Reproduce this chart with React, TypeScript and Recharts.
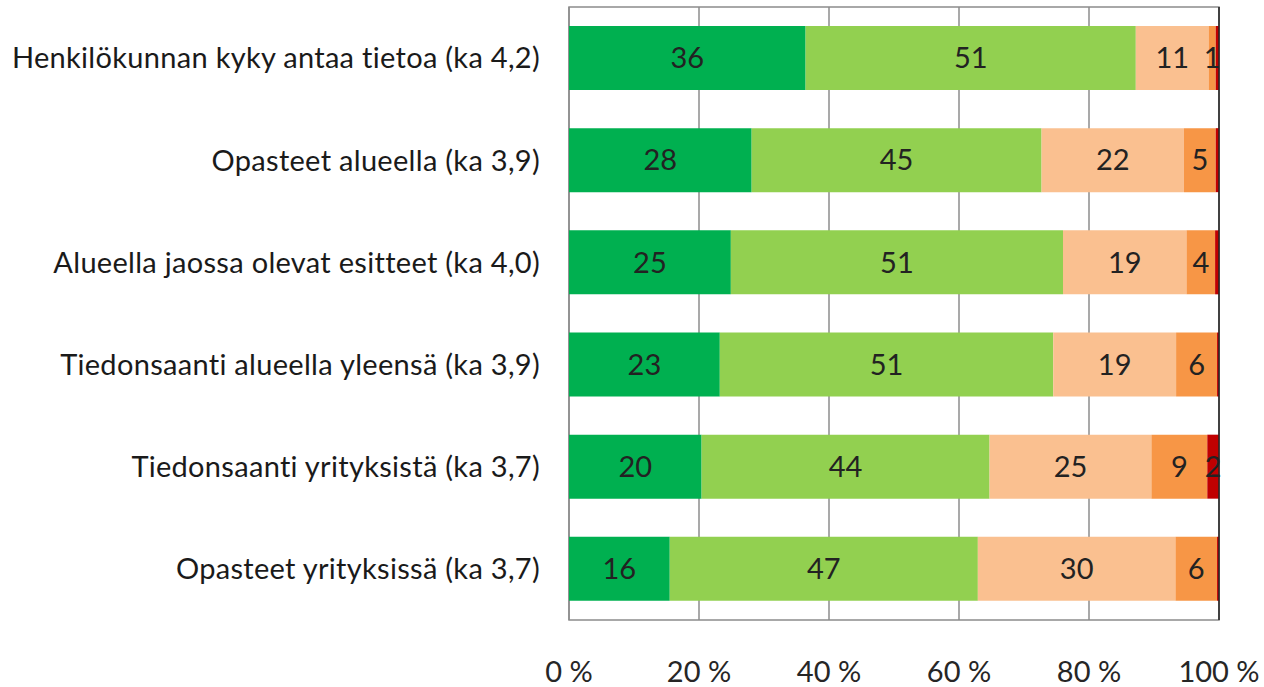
import {
  Bar,
  BarChart,
  CartesianGrid,
  LabelList,
  ReferenceArea,
  ReferenceLine,
  XAxis,
  YAxis,
} from 'recharts';

const categories = [
  'Henkilökunnan kyky antaa tietoa (ka 4,2)',
  'Opasteet alueella (ka 3,9)',
  'Alueella jaossa olevat esitteet (ka 4,0)',
  'Tiedonsaanti alueella yleensä (ka 3,9)',
  'Tiedonsaanti yrityksistä (ka 3,7)',
  'Opasteet yrityksissä (ka 3,7)',
];

// share of answers per category, in percent
const veryGood = [36.4, 28.1, 24.9, 23.2, 20.4, 15.5];
const good = [50.8, 44.6, 51.1, 51.3, 44.3, 47.4];
const fair = [11.2, 21.9, 19.0, 18.9, 24.9, 30.4];
const poor = [1.1, 4.9, 4.4, 6.3, 8.6, 6.4];
const veryPoor = [0.5, 0.5, 0.6, 0.3, 1.8, 0.3];

const xTicks = [0, 20, 40, 60, 80, 100];

const series = [
  { key: 'veryGood', color: '#00b050' },
  { key: 'good', color: '#92d050' },
  { key: 'fair', color: '#fac090' },
  { key: 'poor', color: '#f79646' },
  { key: 'veryPoor', color: '#c00000' },
];

const rows = categories.map((name, i) => ({
  name,
  veryGood: veryGood[i],
  good: good[i],
  fair: fair[i],
  poor: poor[i],
  veryPoor: veryPoor[i],
}));

const FONT = 'Lato, "Open Sans", sans-serif';
const FS = 29;

const showValue = (v: any) => (Number(v) >= 1 ? String(Math.round(Number(v))) : '');

export default function App() {
  return (
    <div style={{ position: 'absolute', left: 0, top: 0, background: '#fff' }}>
      <BarChart
        width={1264}
        height={687}
        data={rows}
        layout="vertical"
        margin={{ top: 7, right: 45, bottom: 0, left: 0 }}
        barSize={64}
      >
        <CartesianGrid horizontal={false} stroke="#8c8c8c" strokeWidth={1.5} />
        <ReferenceArea x1={0} x2={100} fill="none" stroke="#8c8c8c" strokeWidth={1.5} />
        <XAxis
          type="number"
          domain={[0, 100]}
          ticks={xTicks}
          tickFormatter={(v) => `${v} %`}
          axisLine={false}
          tickLine={false}
          tickSize={0}
          tickMargin={41}
          height={67}
          tick={{ fill: '#262626', fontSize: FS, fontFamily: FONT }}
          interval={0}
        />
        <XAxis
          xAxisId="top"
          type="number"
          orientation="top"
          domain={[0, 100]}
          height={0}
          tick={false}
          tickLine={false}
          axisLine={{ stroke: '#262626', strokeWidth: 1.5 }}
        />
        <YAxis
          type="category"
          dataKey="name"
          width={569}
          axisLine={false}
          tickLine={false}
          tickSize={0}
          tickMargin={29}
          tick={{ fill: '#1a1a1a', fontSize: FS, fontFamily: FONT, letterSpacing: 0.3 }}
          interval={0}
        />
        {series.map((s) => (
          <Bar
            key={s.key}
            dataKey={s.key}
            stackId="a"
            fill={s.color}
            isAnimationActive={false}
          >
            <LabelList
              dataKey={s.key}
              position="center"
              formatter={showValue}
              fill="#222"
              fontSize={FS}
              fontFamily={FONT}
            />
          </Bar>
        ))}
        <ReferenceLine x={100} stroke="#262626" strokeWidth={1.5} />
      </BarChart>
    </div>
  );
}
